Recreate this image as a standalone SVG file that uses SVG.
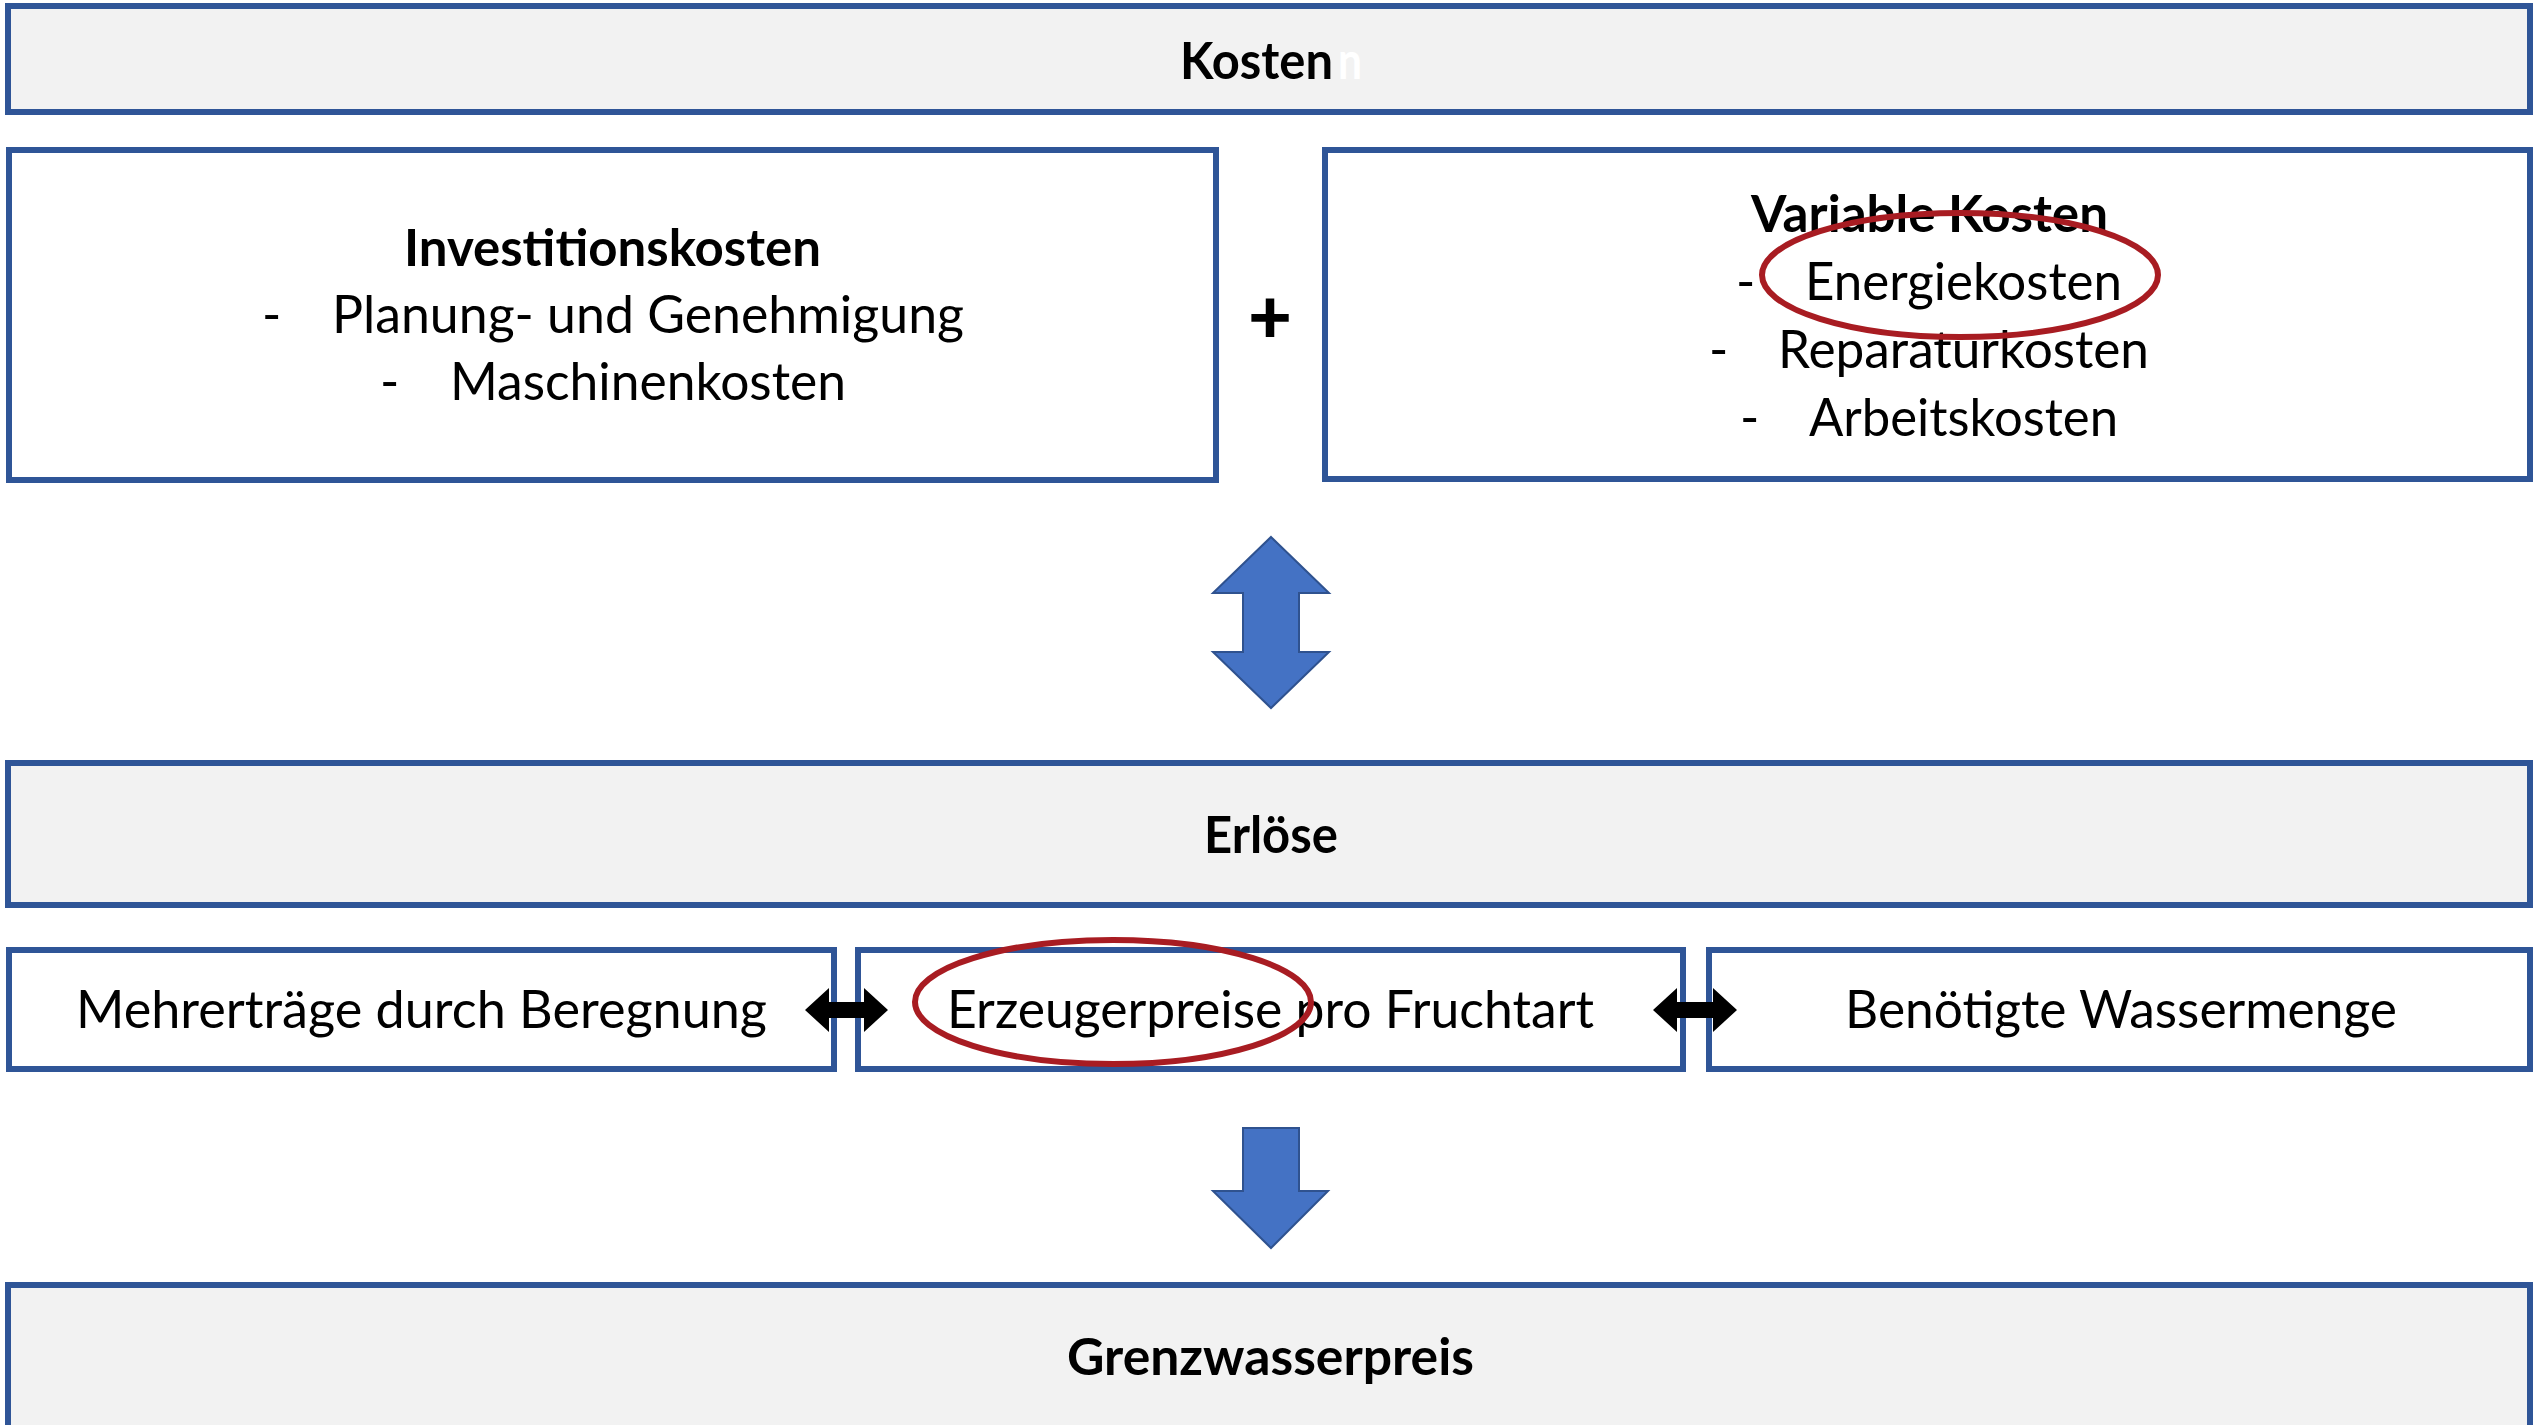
<svg xmlns="http://www.w3.org/2000/svg" width="2534" height="1425" viewBox="0 0 2534 1425">
<defs>
<style>
.box{stroke:#2F5597;stroke-width:6}
.gray{fill:#F2F2F2}
.white{fill:#FFFFFF}
text{font-family:Lato,"Liberation Sans",sans-serif;font-size:52px;fill:#000}
.b{font-weight:bold}
.c{text-anchor:middle}
.plus{font-size:76px;font-weight:900}
.blue{fill:#4472C4;stroke:#2F528F;stroke-width:2}
.blk{fill:#000}
.mark{fill:none;stroke:#A81C22;stroke-width:6}
</style>
</defs>
<rect width="2534" height="1425" fill="#FFFFFF"/>
<g id="kosten">
<rect class="box gray" x="8" y="6" width="2522" height="106"/>
<text class="b" x="1180" y="79" textLength="153" lengthAdjust="spacingAndGlyphs">Kosten</text>
<text class="b" x="1338" y="79" textLength="24" lengthAdjust="spacingAndGlyphs" style="fill:#FFFFFF">n</text>
</g>
<g id="investitionskosten">
<rect class="box white" x="9" y="150" width="1207" height="330"/>
<text class="b" x="404" y="266" textLength="417" lengthAdjust="spacingAndGlyphs">Investitionskosten</text>
<text x="262" y="333">-</text>
<text x="332" y="333" textLength="632" lengthAdjust="spacingAndGlyphs">Planung- und Genehmigung</text>
<text x="380" y="400">-</text>
<text x="450" y="400" textLength="396" lengthAdjust="spacingAndGlyphs">Maschinenkosten</text>
</g>
<g id="plus">
<text class="plus c" x="1270" y="343">+</text>
</g>
<g id="variable-kosten">
<rect class="box white" x="1325" y="150" width="1205" height="329"/>
<text class="b" x="1751" y="232" textLength="357" lengthAdjust="spacingAndGlyphs">Variable Kosten</text>
<text x="1736" y="300">-</text>
<text x="1805" y="300" textLength="317" lengthAdjust="spacingAndGlyphs">Energiekosten</text>
<text x="1709" y="368">-</text>
<text x="1778" y="368" textLength="371" lengthAdjust="spacingAndGlyphs">Reparaturkosten</text>
<text x="1740" y="436">-</text>
<text x="1809" y="436" textLength="309" lengthAdjust="spacingAndGlyphs">Arbeitskosten</text>
</g>
<g id="erloese">
<rect class="box gray" x="8" y="763" width="2522" height="142"/>
<text class="b" x="1204" y="853" textLength="134" lengthAdjust="spacingAndGlyphs">Erlöse</text>
</g>
<g id="mehrertraege">
<rect class="box white" x="9" y="950" width="825" height="119"/>
<text x="76" y="1028" textLength="691" lengthAdjust="spacingAndGlyphs">Mehrerträge durch Beregnung</text>
</g>
<g id="erzeugerpreise">
<rect class="box white" x="858" y="950" width="825" height="119"/>
<text x="947" y="1028" textLength="647" lengthAdjust="spacingAndGlyphs">Erzeugerpreise pro Fruchtart</text>
</g>
<g id="wassermenge">
<rect class="box white" x="1709" y="950" width="821" height="119"/>
<text x="1845" y="1028" textLength="552" lengthAdjust="spacingAndGlyphs">Benötigte Wassermenge</text>
</g>
<g id="grenzwasserpreis">
<rect class="box gray" x="8" y="1285" width="2522" height="160"/>
<text class="b" x="1067" y="1375" textLength="407" lengthAdjust="spacingAndGlyphs">Grenzwasserpreis</text>
</g>
<g id="connectors">
<polygon class="blue" points="1271,537 1329,593 1299,593 1299,652 1329,652 1271,708 1213,652 1243,652 1243,593 1213,593"/>
<polygon class="blk" points="805,1010 829,988 829,1002 864,1002 864,988 888,1010 864,1032 864,1018 829,1018 829,1032"/>
<polygon class="blk" points="1653,1010 1677,988 1677,1002 1713,1002 1713,988 1737,1010 1713,1032 1713,1018 1677,1018 1677,1032"/>
<polygon class="blue" points="1243,1128 1299,1128 1299,1191 1328,1191 1271,1248 1213,1191 1243,1191"/>
</g>
<g id="highlights">
<ellipse class="mark" cx="1960" cy="275" rx="198" ry="62"/>
<ellipse class="mark" cx="1113" cy="1002" rx="198" ry="62"/>
</g>
</svg>
